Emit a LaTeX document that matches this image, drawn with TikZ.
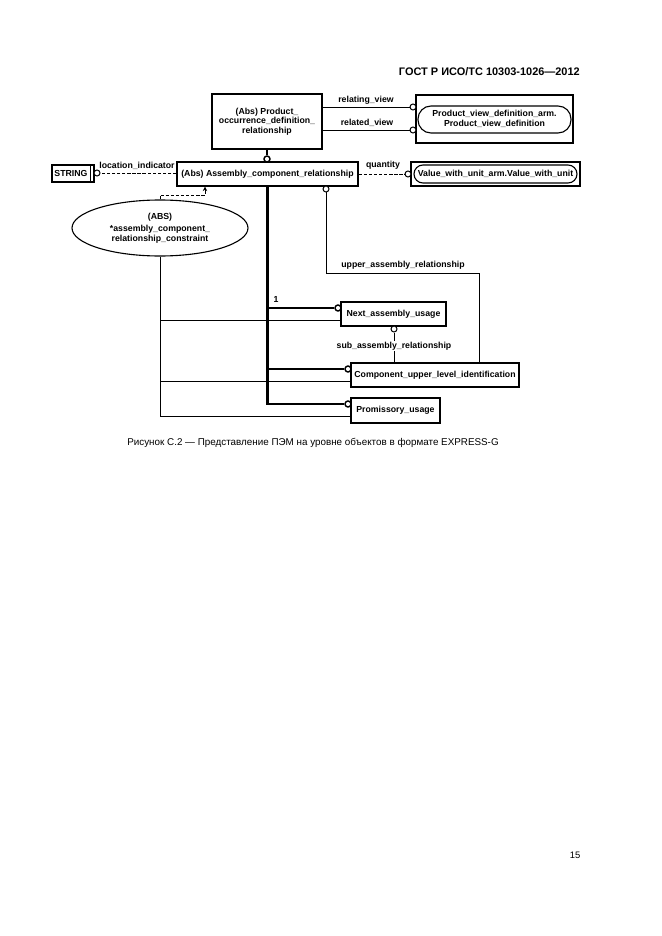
\documentclass[tikz,border=0pt]{standalone}
\usepackage{fontspec}
\setmainfont{Liberation Sans}
\usetikzlibrary{shapes.geometric,arrows.meta}
\newcommand\pxu{0.3177mm}
\newcommand\dfont{\fontsize{7.9}{8.6}\selectfont\bfseries}
\begin{document}
\begin{tikzpicture}[x=0.3177mm,y=-0.3177mm,
  ent/.style={draw, line width=1.2pt, font=\dfont, inner sep=0pt, align=center},
  lbl/.style={font=\dfont, inner sep=0pt},
  thinln/.style={line width=0.9pt},
  supln/.style={line width=2.4pt, line join=miter},
  dashln/.style={line width=0.9pt, dash pattern=on 3pt off 1.6pt},
  circ/.style={draw, circle, line width=0.9pt, fill=white, minimum size=6*\pxu, inner sep=0pt},
  bcirc/.style={circ, line width=1.3pt}
]
\fill[white] (0,0) rectangle (661,936);
\useasboundingbox (0,0) rectangle (661,936);

% header, caption, page number
\node[anchor=east, font=\fontsize{9.9}{11}\selectfont\bfseries, inner sep=0pt] (hdr) at (580,72) {ГОСТ Р ИСО/ТС 10303-1026—2012};
\node[font=\fontsize{8.9}{10}\selectfont, inner sep=0pt] (cap) at (313,443) {Рисунок С.2 — Представление ПЭМ на уровне объектов в формате EXPRESS-G};
\node[font=\fontsize{8.5}{10}\selectfont, inner sep=0pt] (pg) at (575,855) {15};

% entities
\node[ent, minimum width=110*\pxu, minimum height=55*\pxu] (prod) at (267,121.5)
  {(Abs) Product\_\\occurrence\_definition\_\\relationship};
\node[ent, minimum width=157*\pxu, minimum height=48*\pxu] (pvd) at (494.5,119)
  {Product\_view\_definition\_arm.\\Product\_view\_definition};
\draw[line width=1.0pt, rounded corners=13*\pxu] (418,106) rectangle (571,133);

\node[ent, minimum width=181*\pxu, minimum height=24*\pxu] (asm) at (267.5,174)
  {(Abs) Assembly\_component\_relationship};

\node[ent, minimum width=42*\pxu, minimum height=17*\pxu] (str) at (73,173.5)
  {STRING\hspace{1.3mm}};
\draw[line width=1.2pt] ([xshift=-4*\pxu]str.north east) -- ([xshift=-4*\pxu]str.south east);

\node[ent, minimum width=169*\pxu, minimum height=24*\pxu] (val) at (495.5,174)
  {Value\_with\_unit\_arm.Value\_with\_unit};
\draw[line width=1.0pt, rounded corners=9*\pxu] (414,165) rectangle (577,183);

\node[ent, ellipse, line width=1.0pt, minimum width=176*\pxu, minimum height=56*\pxu] (cons) at (160,228)
  {(ABS)\\[2.5pt]*assembly\_component\_\\relationship\_constraint};

\node[ent, minimum width=105*\pxu, minimum height=24*\pxu] (nxt) at (393.5,314) {Next\_assembly\_usage};
\node[ent, minimum width=168*\pxu, minimum height=24*\pxu] (comp) at (435,375) {Component\_upper\_level\_identification};
\node[ent, minimum width=89*\pxu, minimum height=25*\pxu] (prom) at (395.5,410.5) {Promissory\_usage};

% circles
\node[bcirc] (ca) at (267,159) {};
\node[circ] (crel1) at (413,107) {};
\node[circ] (crel2) at (413,130) {};
\node[circ] (cloc) at (97,173) {};
\node[circ] (cqty) at (408,174) {};
\node[circ] (cup) at (326,189) {};
\node[circ] (csub) at (394,329) {};
\node[bcirc] (cn) at (338,308) {};
\node[bcirc] (cc) at (348,369) {};
\node[bcirc] (cp) at (348,404) {};

% prod -> asm supertype
\draw[supln] (prod.south) -- (ca.north);

% prod attributes
\draw[thinln] (prod.east |- crel1) -- (crel1.west);
\draw[thinln] (prod.east |- crel2) -- (crel2.west);
\node[lbl] (lrel1) at (366,100) {relating\_view};
\node[lbl] (lrel2) at (367,123) {related\_view};

% location indicator and quantity
\draw[dashln] (asm.west |- cloc) -- (cloc.east);
\node[lbl] (lloc) at (137,166) {location\_indicator};
\draw[dashln] (asm.east |- cqty) -- (cqty.west);
\node[lbl] (lqty) at (383,165) {quantity};

% constraint dashed link
\coordinate (kc) at (205,195);
\draw[dashln, -{Stealth[length=4pt,width=4pt]}] (cons.north) |- (kc) -- (kc |- asm.south);

% thin lines from constraint
\draw[thinln] (cons.south) -- (cons.south |- 0,416) -- (prom.west |- 0,416);
\draw[thinln] (cons.south |- 0,320) -- (nxt.west |- 0,320);
\draw[thinln] (cons.south |- 0,381) -- (comp.west |- 0,381);

% subtype thick lines
\draw[supln] (asm.south) |- (cp.west);
\draw[supln] (asm.south |- cn) -- (cn.west);
\draw[supln] (asm.south |- cc) -- (cc.west);
\node[lbl] (l1) at (276,299) {1};

% upper assembly relationship
\coordinate (ua) at (479,273);
\draw[thinln] (cup.south) |- (ua) -- (ua |- comp.north);
\node[lbl] (lup) at (403,265) {upper\_assembly\_relationship};

% sub assembly relationship
\draw[thinln] (csub.south) -- (csub.south |- comp.north);
\node[lbl, fill=white, inner sep=1pt] (lsub) at (394,346) {sub\_assembly\_relationship};
\end{tikzpicture}
\end{document}
